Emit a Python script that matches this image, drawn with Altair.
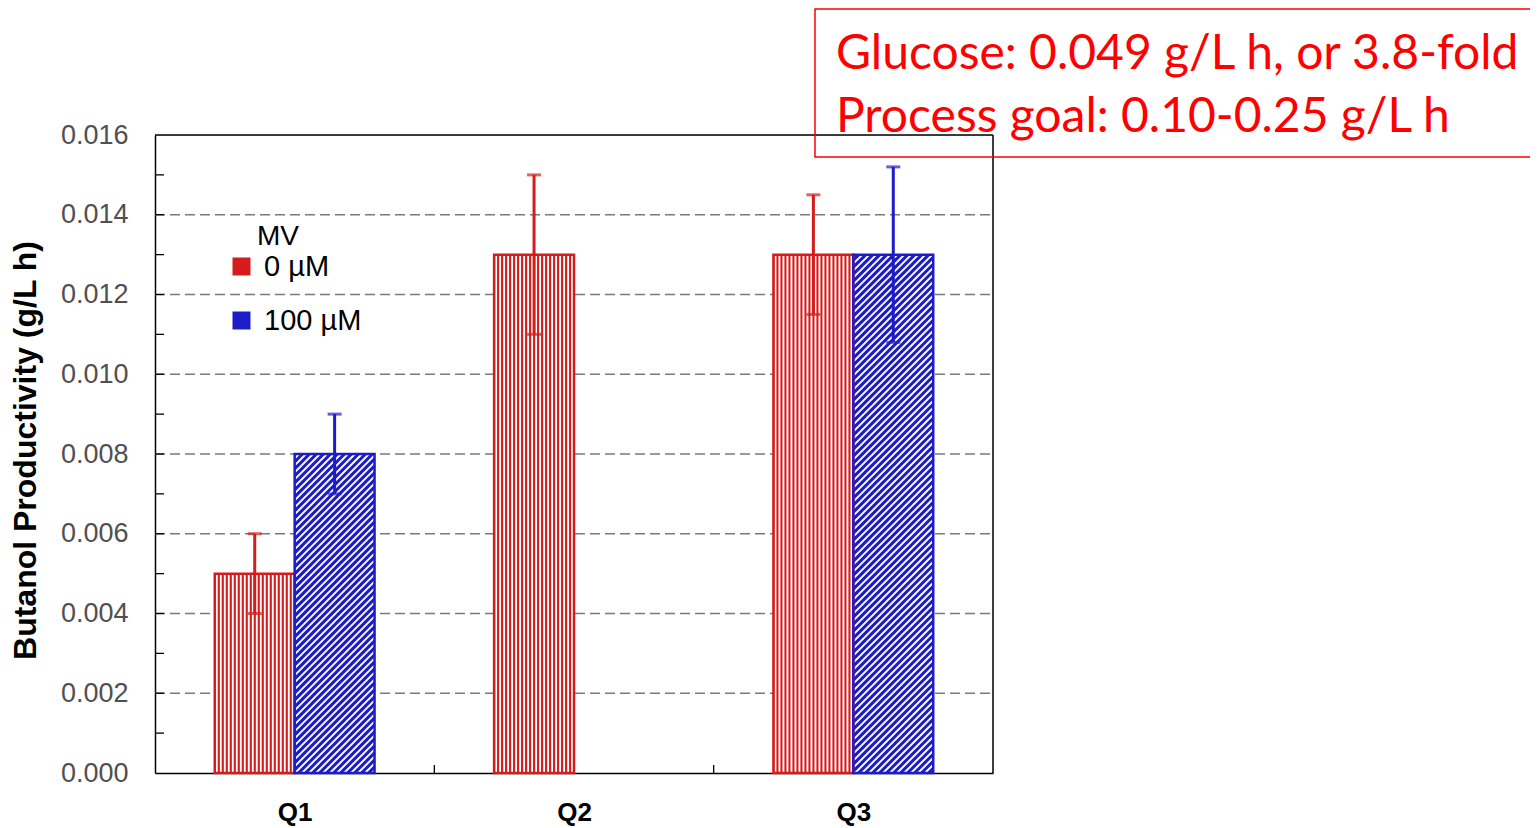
import json
import numpy as np
import pandas as pd
import altair as alt

# ---------------- data ----------------
categories = ["Q1", "Q2", "Q3"]
series = ["0 µM", "100 µM"]
mv0_mean = [0.005, 0.013, 0.013]
mv0_err = [0.001, 0.002, 0.0015]
mv100_mean = [0.008, None, 0.013]
mv100_err = [0.001, None, 0.0022]
y_tick_values = [0.000, 0.002, 0.004, 0.006, 0.008, 0.010, 0.012, 0.014, 0.016]
y_minor_values = [0.001, 0.003, 0.005, 0.007, 0.009, 0.011, 0.013, 0.015]
x_boundaries = [1, 2]
legend_title = "MV"
y_title = "Butanol Productivity (g/L h)"
note_lines = ["Glucose: 0.049 g/L h, or 3.8-fold", "Process goal: 0.10-0.25 g/L h"]

# ---------------- style / layout ----------------
colors = ["#d41c1c", "#1c1cc8"]
W, H = 838, 638
PAD = {"left": 147, "top": 127, "right": 537, "bottom": 53}
Y_MAX = 0.016
BAR_W = 0.286  # fraction of a category band
kx = W / 3.0
ky = H / Y_MAX
FONT = "Liberation Sans"

# ---------------- derived tables ----------------
bars = []
for i, cat in enumerate(categories):
    c = i + 0.5
    vals = [(series[0], mv0_mean[i], mv0_err[i], (c - BAR_W, c)),
            (series[1], mv100_mean[i], mv100_err[i], (c, c + BAR_W))]
    for s, m, e, (x0, x1) in vals:
        if m is None:
            continue
        bars.append(dict(category=cat, series=s, value=m, err=e, x0=x0, x1=x1,
                         xc=(x0 + x1) / 2, low=m - e, high=m + e))
bars_df = pd.DataFrame(bars)

hatch = []
for b in bars:
    Xa, Xb = b["x0"] * kx, b["x1"] * kx
    Hv = b["value"] * ky
    if b["series"] == series[0]:
        X = Xa + 2.0
        while X < Xb - 1:
            hatch.append(dict(hx=X / kx, hx2=X / kx, hy=0.0, hy2=b["value"]))
            X += 4.0
    else:
        step = 7.0
        n0 = int(np.ceil(-Xb / step))
        n1 = int(np.floor((Hv - Xa) / step))
        for n in range(n0, n1 + 1):
            d = n * step
            lo = max(Xa, -d)
            hi = min(Xb, Hv - d)
            if hi > lo:
                hatch.append(dict(hx=lo / kx, hx2=hi / kx, hy=(lo + d) / ky, hy2=(hi + d) / ky))
hatch_df = pd.DataFrame(hatch)

grid_df = pd.DataFrame({"g": y_tick_values[1:-1]})
minor_df = pd.DataFrame({"t": y_tick_values[1:-1] + y_minor_values})
xb_df = pd.DataFrame({"b": x_boundaries})
one_df = pd.DataFrame({"k": [0]})

# ---------------- scales / axes ----------------
xs = alt.Scale(domain=[0, 3], nice=False, zero=False)
ys = alt.Scale(domain=[0, Y_MAX], nice=False)
label_expr = json.dumps(categories) + "[floor(datum.value)]"
x_axis = alt.Axis(values=[0.5, 1.5, 2.5], labelExpr=label_expr, grid=False, ticks=False,
                  tickSize=0, labelPadding=26, labelFontSize=26, labelFontWeight="bold",
                  labelColor="black", labelFont=FONT, domainColor="black", domainWidth=1.5,
                  title=None)
y_axis = alt.Axis(values=y_tick_values, format=".3f", grid=False, ticks=False, tickSize=0,
                  labelPadding=27, labelFontSize=27, labelColor="#505050", labelFont=FONT,
                  domainColor="black", domainWidth=1.5,
                  title=y_title, titleFont=FONT, titleFontSize=32, titleFontWeight="bold",
                  titleColor="black", titleAngle=270, titleX=-130, titleY=315,
                  titleAlign="center", titleBaseline="middle")

def X(field):
    return alt.X(field, type="quantitative", scale=xs, axis=x_axis)

def Y(field):
    return alt.Y(field, type="quantitative", scale=ys, axis=y_axis)

color_scale = alt.Scale(domain=series, range=colors)
color_fill = alt.Color("series:N", scale=color_scale,
                       legend=alt.Legend(title=None, orient="none", legendX=72, legendY=117,
                                         symbolType="square", symbolSize=324, symbolStrokeWidth=0,
                                         labelFontSize=29, labelFont=FONT, labelColor="black",
                                         labelOffset=8, rowPadding=24))
stroke_enc = alt.Stroke("series:N", scale=color_scale, legend=None)

grid_layer = alt.Chart(grid_df).mark_rule(color="#7a7a7a", strokeWidth=1.5, strokeDash=[10, 5]).encode(
    y=Y("g"), x=alt.value(0), x2=alt.value(W))

bars_fill = alt.Chart(bars_df).mark_rect().encode(
    x=X("x0"), x2="x1", y=Y("value"), y2=alt.datum(0), fill=color_fill)

hatch_layer = alt.Chart(hatch_df).mark_rule(color="white", strokeWidth=1.9, strokeCap="butt").encode(
    x=X("hx"), x2="hx2", y=Y("hy"), y2="hy2")

bars_outline = alt.Chart(bars_df).mark_rect(fillOpacity=0, strokeWidth=2.5).encode(
    x=X("x0"), x2="x1", y=Y("value"), y2=alt.datum(0), stroke=stroke_enc)

err_line = alt.Chart(bars_df).mark_rule(strokeWidth=3).encode(
    x=X("xc"), y=Y("low"), y2="high", stroke=stroke_enc)
err_cap_hi = alt.Chart(bars_df).mark_tick(orient="horizontal", size=14, thickness=3).encode(
    x=X("xc"), y=Y("high"), color=alt.Color("series:N", scale=color_scale, legend=None))
err_cap_lo = alt.Chart(bars_df).mark_tick(orient="horizontal", size=14, thickness=3).encode(
    x=X("xc"), y=Y("low"), color=alt.Color("series:N", scale=color_scale, legend=None))

y_ticks_layer = alt.Chart(minor_df).mark_rule(color="black", strokeWidth=1.3).encode(
    y=Y("t"), x=alt.value(0), x2=alt.value(9))
x_ticks_layer = alt.Chart(xb_df).mark_rule(color="black", strokeWidth=1.3).encode(
    x=X("b"), y=alt.value(H - 8), y2=alt.value(H))

frame_top = alt.Chart(one_df).mark_rule(color="black", strokeWidth=1.5).encode(
    x=alt.value(0), x2=alt.value(W), y=alt.value(0))
frame_right = alt.Chart(one_df).mark_rule(color="black", strokeWidth=1.5).encode(
    x=alt.value(W), y=alt.value(0), y2=alt.value(H))

legend_head = alt.Chart(one_df).mark_text(align="left", baseline="alphabetic", font=FONT,
                                          fontSize=28, color="black").encode(
    x=alt.value(102), y=alt.value(110), text=alt.value(legend_title))

note_box = alt.Chart(one_df).mark_rect(fillOpacity=0, stroke="#ff0000", strokeWidth=1.5).encode(
    x=alt.value(660), x2=alt.value(1400), y=alt.value(-126), y2=alt.value(22))
note_text = alt.Chart(one_df).mark_text(align="left", baseline="alphabetic", font="Lato",
                                        fontSize=48, color="#ff0000", lineHeight=63).encode(
    x=alt.value(681), y=alt.value(-66), text=alt.value(note_lines))

chart = alt.layer(
    grid_layer, bars_fill, hatch_layer, bars_outline, err_line, err_cap_hi, err_cap_lo,
    y_ticks_layer, x_ticks_layer, frame_top, frame_right, legend_head, note_box, note_text
).properties(
    width=W, height=H,
    autosize=alt.AutoSizeParams(type="none"),
    padding=PAD,
).configure_view(stroke=None).configure(background="white")

chart.save("out.html", embed_options={"renderer": "svg", "actions": False})
